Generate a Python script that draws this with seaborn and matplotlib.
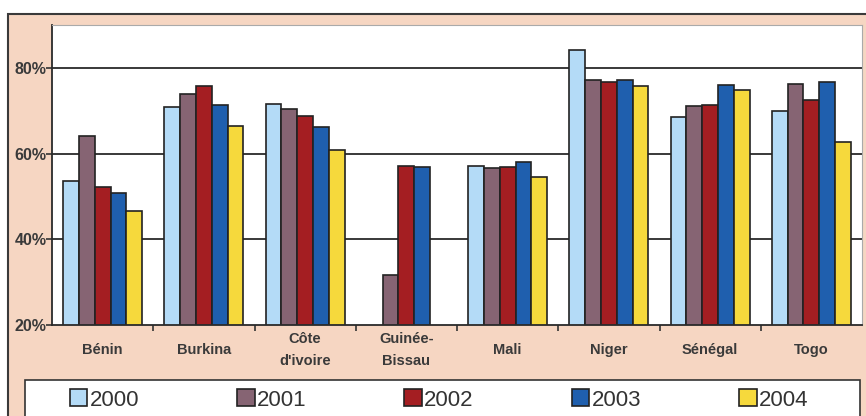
import numpy as np
import pandas as pd
import matplotlib
matplotlib.use("Agg")
import matplotlib.pyplot as plt
import matplotlib.patches as mpatches
import matplotlib.ticker as mticker
import seaborn as sns

# data (percent)
countries = ['Bénin', 'Burkina', "Côte\nd'ivoire", 'Guinée-\nBissau', 'Mali', 'Niger', 'Sénégal', 'Togo']
years = ['2000', '2001', '2002', '2003', '2004']
v2000 = [53.7, 70.8, 71.5, np.nan, 57.1, 84.1, 68.5, 70.0]
v2001 = [64.2, 74.0, 70.4, 31.7, 56.6, 77.2, 71.2, 76.2]
v2002 = [52.2, 75.8, 68.8, 57.1, 56.8, 76.8, 71.3, 72.4]
v2003 = [50.9, 71.4, 66.2, 56.8, 58.0, 77.2, 76.1, 76.8]
v2004 = [46.5, 66.5, 60.9, np.nan, 54.6, 75.8, 74.9, 62.6]
ytick_vals = [20, 40, 60, 80]

colors = ['#b4dbf7', '#866473', '#a41e22', '#1f5fae', '#f6d93c']

rows = []
for yr, vals in zip(years, [v2000, v2001, v2002, v2003, v2004]):
    for c, v in zip(countries, vals):
        rows.append({'pays': c, 'annee': yr, 'taux': v})
df = pd.DataFrame(rows)

sns.set_theme(style='white')
plt.rcParams['font.family'] = ['Liberation Sans', 'DejaVu Sans']

W, H = 866, 416
fig = plt.figure(figsize=(W / 100, H / 100), dpi=100)
fig.patch.set_facecolor('white')

# peach outer frame
fig.patches.append(mpatches.Rectangle((8 / W, -0.02), 1.0, 1 - 14 / H + 0.02,
                                      transform=fig.transFigure, facecolor='#f6d6c2',
                                      edgecolor='#3a3a3a', linewidth=1.5, zorder=-10))
# white legend box
fig.patches.append(mpatches.Rectangle((25 / W, -0.02), 835 / W, 36 / H + 0.02,
                                      transform=fig.transFigure, facecolor='white',
                                      edgecolor='#333333', linewidth=1.2, zorder=-5))

ax = fig.add_axes([52 / W, 1 - 325 / H, 810 / W, 300 / H])
ax.set_facecolor('white')

sns.barplot(data=df, x='pays', y='taux', hue='annee', palette=colors, ax=ax,
            width=0.78, edgecolor='#222222', linewidth=1.2, saturation=1, legend=True)

ax.set_ylim(20, 90)
ax.set_xlim(-0.5, len(countries) - 0.5)
ax.set_yticks(ytick_vals)
ax.yaxis.set_major_formatter(mticker.FuncFormatter(lambda v, p: f'{int(v)}%'))
for y in [40, 60, 80]:
    ax.axhline(y, color='#2a2a2a', linewidth=1.3, zorder=0.5)
ax.set_axisbelow(True)

ax.set_xlabel('')
ax.set_ylabel('')
ax.set_xticks(range(len(countries)))
ax.set_xticklabels(countries, fontsize=10.5, fontweight='bold', color='#3a3a3a',
                   linespacing=1.7, va='center')
ax.tick_params(axis='x', which='major', length=0, pad=18)
ax.xaxis.set_minor_locator(mticker.FixedLocator(np.arange(0.5, len(countries) - 0.5, 1)))
ax.tick_params(axis='x', which='minor', bottom=True, length=4, width=1.2, color='#333333', direction='out')
ax.tick_params(axis='y', left=True, length=4, width=1.2, color='#333333', direction='out', pad=0)
for lab in ax.get_yticklabels():
    lab.set_fontsize(11.5)
    lab.set_fontweight('bold')
    lab.set_color('#3a3a3a')

for side in ['left', 'bottom']:
    ax.spines[side].set_color('#2a2a2a')
    ax.spines[side].set_linewidth(1.3)
for side in ['top', 'right']:
    ax.spines[side].set_color('#aaaaaa')
    ax.spines[side].set_linewidth(0.8)

handles, labels = ax.get_legend_handles_labels()
ax.get_legend().remove()
leg = fig.legend(handles, labels, loc='center', ncol=5,
                 bbox_to_anchor=(439 / W, 1 - 400 / H),
                 fontsize=16, frameon=False, handlelength=0.8,
                 handleheight=0.8, handletextpad=0.1, columnspacing=4.4, borderaxespad=0.0)
for t in leg.get_texts():
    t.set_color('#333333')

fig.savefig('out.png', dpi=100)
